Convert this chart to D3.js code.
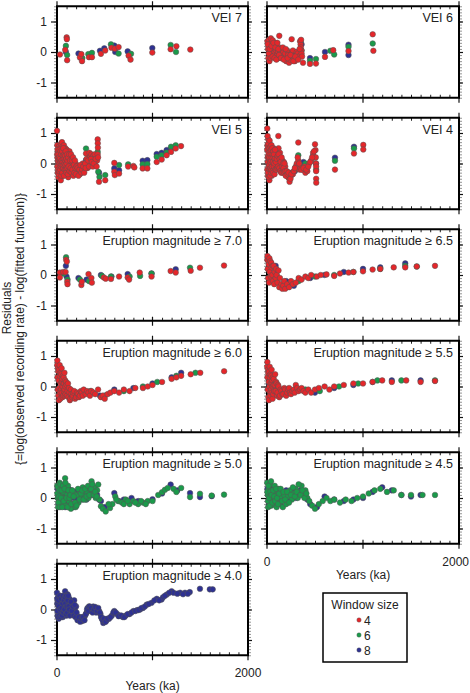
<!DOCTYPE html>
<html><head><meta charset="utf-8">
<script src="https://cdn.jsdelivr.net/npm/d3@7"></script>
<style>body{margin:0;background:#fff}svg{display:block;font-family:"Liberation Sans",Arial,Helvetica,sans-serif}</style>
</head><body><svg id="c" width="470" height="693"></svg>
<script>
// ---------------- DATA (x = years ka, y = residual) ----------------
const windowSizes = ["4", "6", "8"];
const xTickLabels = ["0", "2000"];
const yTickValues = [-1, 0, 1];

const vei7_w8 = [[93,0.0],[225,-0.05],[450,0.04],[495,0.12],[600,0.21],[610,0.0],[740,0.02],[998,0.13]];
const vei7_w6 = [[93,0.2],[106,-0.1],[265,-0.2],[328,-0.07],[366,-0.03],[565,0.25],[645,-0.05],[775,-0.06],[1190,0.23],[1246,0.0]];
const vei7_w4 = [[31,-0.08],[86,0.07],[101,0.48],[103,0.42],[106,-0.27],[240,-0.18],[262,-0.3],[255,-0.07],[335,-0.17],[366,-0.17],[460,-0.06],[505,0.05],[570,0.14],[605,0.11],[645,0.16],[750,-0.12],[770,-0.25],[998,-0.02],[1190,0.09],[1250,0.19],[1396,0.08]];

const vei6_w8 = [[30,0.1],[60,-0.05],[150,0.05],[250,-0.05],[300,0.0],[360,0.25],[448,-0.2],[604,0.0],[849,0.24],[849,-0.1]];
const vei6_w6 = [[40,0.2],[110,0.15],[200,0.0],[270,-0.1],[350,0.35],[360,0.05],[448,-0.29],[510,-0.23],[660,0.04],[700,-0.08],[849,0.17],[1101,0.28]];
const vei6_w4 = [[5,0.35],[10,0.1],[15,-0.2],[20,0.4],[25,-0.3],[30,0.25],[35,0.0],[40,0.45],[45,-0.1],[50,0.3],[55,0.15],[60,0.38],[65,-0.05],[70,0.2],[75,0.1],[80,0.0],[85,0.3],[90,-0.15],[95,0.05],[100,0.2],[105,-0.1],[110,0.1],[115,0.0],[120,-0.2],[128,0.53],[130,0.15],[135,-0.05],[140,0.05],[150,0.1],[155,-0.15],[160,-0.1],[170,0.0],[180,-0.2],[190,-0.05],[200,-0.3],[210,0.05],[220,-0.1],[230,-0.35],[240,-0.25],[257,0.42],[260,0.0],[265,-0.15],[270,0.05],[280,-0.2],[290,-0.3],[300,-0.1],[310,0.0],[320,-0.05],[330,-0.15],[345,0.35],[350,0.25],[352,0.15],[355,0.4],[358,0.05],[360,-0.05],[365,-0.15],[375,-0.35],[448,-0.39],[510,-0.38],[604,-0.16],[690,0.06],[849,0.03],[1101,0.58],[1108,0.04],
  [8,0.25],[18,-0.05],[28,0.1],[38,-0.2],[48,0.2],[58,-0.15],[68,0.3],[78,-0.2],[88,0.15],[98,-0.25],[108,0.3],[118,0.1],[125,-0.1],[145,-0.2],[165,0.15],[175,-0.25],[195,0.1],[215,-0.2],[245,-0.1],[275,-0.3],[295,-0.15],[325,-0.25],[340,0.1]];

const vei5_w8 = [[20,0.1],[50,0.0],[80,0.45],[120,-0.1],[180,-0.2],[304,0.11],[340,-0.05],[380,0.15],[440,-0.3],[600,-0.16],[650,-0.22],[897,0.09],[946,0.11],[1044,0.31],[1096,0.35],[1148,0.44],[1194,0.49]];
const vei5_w6 = [[30,0.2],[70,-0.2],[150,0.1],[304,0.49],[330,0.2],[426,0.38],[432,-0.27],[445,-0.44],[505,-0.38],[650,-0.05],[745,-0.03],[897,-0.03],[946,-0.02],[1044,0.22],[1096,0.27],[1148,0.36],[1194,0.55],[1243,0.6]];
const vei5_w4 = [[0,1.07],[3,0.6],[5,0.2],[8,-0.3],[10,0.4],[12,0.0],[15,-0.45],[18,0.25],[20,0.55],[22,-0.15],[25,0.1],[28,0.35],[30,-0.35],[32,0.5],[35,-0.05],[38,0.2],[40,-0.55],[42,0.65],[45,0.05],[48,-0.25],[50,0.3],[52,0.7],[55,-0.1],[58,0.15],[60,-0.4],[62,0.45],[65,0.0],[68,0.25],[70,-0.2],[72,0.6],[75,0.1],[78,-0.3],[80,0.35],[82,0.0],[85,-0.15],[88,0.5],[90,0.2],[92,-0.35],[95,0.05],[98,0.3],[100,-0.1],[103,0.45],[106,0.15],[110,-0.25],[112,0.35],[115,0.0],[118,-0.45],[120,0.2],[125,0.1],[128,-0.2],[130,0.4],[135,-0.05],[138,0.25],[140,-0.3],[145,0.05],[150,0.2],[155,-0.15],[160,0.0],[165,-0.35],[170,0.1],[175,-0.2],[180,0.05],[185,-0.1],[190,-0.3],[195,0.0],[200,-0.2],[210,-0.35],[220,-0.25],[230,-0.1],[240,-0.35],[250,-0.25],[260,-0.1],[270,0.0],[280,-0.05],[290,-0.15],[304,0.33],[310,0.15],[315,-0.1],[320,-0.15],[330,0.0],[340,0.35],[345,0.2],[350,0.1],[360,0.3],[370,-0.05],[380,0.25],[390,0.1],[400,-0.05],[410,0.2],[420,0.1],[426,0.79],[427,0.66],[428,0.52],[440,-0.6],[505,-0.55],[600,0.02],[600,-0.27],[605,-0.38],[650,-0.33],[745,-0.1],[800,-0.08],[810,-0.13],[897,-0.16],[946,-0.16],[1044,0.05],[1096,0.13],[1148,0.27],[1194,0.38],[1243,0.49],[1299,0.57],
  [2,0.3],[4,-0.1],[6,0.45],[9,0.1],[11,-0.2],[14,0.3],[16,0.05],[19,-0.35],[21,0.2],[24,-0.25],[26,0.45],[29,0.0],[31,0.15],[34,-0.2],[36,0.4],[39,0.05],[41,-0.1],[44,0.3],[46,-0.4],[49,0.1],[51,-0.05],[54,0.4],[56,-0.3],[59,0.05],[61,0.25],[64,-0.15],[66,0.5],[69,-0.05],[71,0.15],[74,-0.4],[76,0.3],[79,0.0],[81,-0.2],[84,0.25],[86,0.1],[89,-0.05],[91,0.4],[94,-0.2],[96,0.15],[99,-0.3],[102,0.0],[105,0.3],[108,-0.15],[111,0.1],[114,-0.35],[117,0.2],[122,-0.1],[127,0.3],[132,-0.25],[137,0.1],[142,-0.15],[147,0.3],[152,-0.3],[157,0.1],[162,-0.2],[168,0.2],[172,-0.4],[178,-0.05],[183,-0.3],[188,0.1],[193,-0.15],[198,-0.35],[205,-0.1],[215,-0.15],[225,-0.4],[235,-0.2],[245,-0.05],[255,-0.3],[265,-0.2],[275,-0.1],[285,-0.3],[295,0.0],[300,-0.15],[325,0.1],[335,-0.1],[355,0.15],[365,0.05],[375,-0.1],[385,0.0],[395,0.3],[405,0.15],[415,-0.1],[425,0.3],[430,0.2]];

const vei4_w8 = [[20,0.2],[60,-0.1],[100,0.1],[180,0.0],[290,-0.25],[330,0.0],[380,0.05],[480,0.25],[510,0.0],[708,0.19],[906,0.55]];
const vei4_w6 = [[30,0.1],[80,0.2],[150,-0.1],[230,-0.3],[295,-0.2],[326,0.27],[350,-0.1],[400,0.0],[490,0.2],[512,-0.2],[708,0.09],[906,0.49]];
const vei4_w4 = [[3,1.15],[5,0.6],[8,0.2],[10,-0.4],[12,0.8],[15,0.0],[18,0.4],[20,-0.2],[22,0.7],[25,-0.55],[28,0.3],[30,0.1],[32,0.5],[35,-0.3],[38,0.2],[40,0.6],[42,-0.1],[45,0.35],[48,0.0],[50,-0.4],[55,0.25],[58,0.45],[60,-0.15],[65,0.15],[68,0.0],[70,0.5],[75,-0.25],[80,0.3],[85,0.1],[88,-0.1],[90,0.4],[95,0.2],[100,-0.05],[105,0.3],[110,0.1],[118,0.9],[120,0.5],[125,0.2],[130,0.0],[135,0.35],[140,-0.1],[145,0.15],[150,0.0],[155,-0.2],[160,0.1],[165,-0.05],[170,-0.25],[175,0.05],[180,-0.15],[185,-0.3],[190,-0.1],[200,-0.35],[210,-0.4],[220,-0.45],[233,-0.5],[235,-0.6],[250,-0.4],[260,-0.3],[270,-0.35],[300,-0.1],[310,0.0],[326,0.69],[326,0.1],[330,-0.05],[340,-0.2],[350,-0.15],[370,-0.2],[390,-0.1],[400,-0.3],[420,-0.25],[440,0.0],[460,0.1],[480,0.35],[500,0.63],[505,0.44],[508,0.2],[510,0.0],[512,-0.1],[512,-0.25],[512,-0.5],[513,-0.63],[708,-0.2],[906,0.33],[1003,0.61],[1003,0.46],
  [2,0.45],[4,-0.2],[6,0.9],[7,0.05],[9,0.55],[11,-0.3],[13,0.25],[14,0.65],[16,-0.1],[17,0.35],[19,-0.45],[21,0.15],[23,0.5],[24,-0.05],[26,0.2],[27,0.75],[29,-0.2],[31,0.4],[33,-0.4],[34,0.05],[36,0.55],[37,-0.15],[39,0.3],[41,-0.3],[43,0.45],[44,0.1],[46,-0.2],[47,0.6],[49,0.2],[52,-0.1],[54,0.5],[57,-0.25],[59,0.3],[62,0.05],[64,-0.3],[67,0.4],[69,0.2],[72,-0.1],[74,0.3],[77,0.0],[79,-0.35],[82,0.15],[84,0.45],[87,-0.2],[92,0.05],[97,-0.2],[102,0.15],[107,-0.15],[112,0.25],[115,-0.1],[122,0.3],[128,-0.15],[132,0.15],[138,-0.25],[142,0.05],[148,-0.3],[152,0.2],[158,-0.1],[162,-0.3],[168,0.0],[172,-0.15],[178,-0.3],[182,0.0],[188,-0.25],[195,-0.4],[205,-0.25],[215,-0.35],[225,-0.3],[245,-0.5],[255,-0.35],[280,-0.25],[290,-0.15],[320,0.2],[335,0.0],[360,-0.2],[380,-0.15],[410,-0.2],[430,-0.1],[450,0.05],[470,0.2],[490,0.4]];

const m70_w8 = [[93,0.3],[100,-0.05],[225,-0.1],[310,-0.15],[460,0.0],[570,-0.05],[740,0.03],[990,0.05],[1243,0.19]];
const m70_w6 = [[70,0.05],[95,0.58],[110,-0.15],[240,-0.15],[335,-0.2],[470,-0.03],[565,-0.05],[760,-0.05],[870,-0.03],[990,0.05],[1393,0.24]];
const m70_w4 = [[30,0.08],[30,-0.08],[65,0.1],[90,0.1],[96,0.5],[103,0.44],[108,-0.22],[110,-0.3],[255,-0.33],[260,-0.22],[330,0.03],[360,-0.1],[365,-0.25],[490,-0.08],[510,-0.12],[565,-0.13],[650,-0.05],[740,-0.08],[755,-0.15],[866,0.08],[990,-0.05],[1190,0.13],[1243,0.08],[1400,0.14],[1497,0.24],[1749,0.31]];

const m65_w8 = [[30,0.1],[90,0.3],[200,-0.2],[280,-0.35],[450,-0.1],[600,0.0],[800,0.1],[1000,0.2],[1180,0.25],[1440,0.38]];
const m65_w6 = [[40,0.3],[100,0.0],[250,-0.3],[330,-0.2],[500,-0.05],[700,0.0],[900,0.1],[1180,0.2],[1440,0.3],[1560,0.28]];
const m65_w4 = [[3,0.5],[5,0.62],[8,0.2],[12,-0.1],[15,0.45],[18,0.35],[22,-0.25],[25,0.55],[28,0.1],[35,0.45],[40,-0.05],[45,0.4],[48,0.25],[55,0.0],[60,0.3],[62,-0.2],[70,0.3],[75,-0.3],[80,0.1],[90,-0.1],[95,0.2],[100,0.0],[110,-0.25],[120,0.15],[128,-0.4],[135,-0.1],[150,-0.3],[160,-0.45],[170,-0.35],[180,-0.2],[190,-0.45],[210,-0.3],[230,-0.4],[250,-0.2],[270,-0.3],[300,-0.25],[330,-0.1],[360,-0.15],[400,-0.05],[430,-0.1],[460,0.0],[520,-0.05],[560,0.0],[620,0.02],[700,-0.03],[760,0.05],[850,0.08],[900,0.1],[1000,0.12],[1100,0.18],[1180,0.2],[1320,0.25],[1440,0.25],[1560,0.28],[1750,0.3]];

const m60_w8 = [[20,0.2],[60,-0.1],[150,-0.2],[300,-0.2],[450,-0.3],[600,-0.1],[800,-0.05],[1000,0.1],[1200,0.3],[1300,0.45]];
const m60_w6 = [[30,0.3],[90,0.0],[200,-0.3],[350,-0.15],[500,-0.3],[700,-0.15],[900,0.0],[1050,0.15],[1250,0.35],[1450,0.45]];
const m60_w4 = [[2,0.7],[4,0.85],[5,0.3],[8,-0.1],[10,0.6],[12,0.5],[15,-0.3],[18,0.2],[20,-0.45],[22,0.55],[25,-0.05],[28,0.7],[30,0.35],[32,-0.2],[35,-0.4],[38,0.45],[40,0.1],[42,-0.1],[45,0.4],[48,0.6],[50,-0.2],[52,0.15],[55,0.25],[58,-0.35],[60,0.0],[62,0.35],[65,-0.3],[68,0.1],[70,0.3],[72,-0.15],[75,0.1],[78,0.45],[80,-0.1],[82,-0.3],[85,0.2],[88,0.0],[90,-0.25],[95,0.15],[100,0.05],[105,-0.3],[110,-0.15],[115,0.1],[120,-0.35],[125,-0.05],[130,-0.2],[135,-0.45],[140,-0.4],[145,-0.1],[150,-0.25],[158,-0.35],[165,-0.3],[172,-0.2],[180,-0.15],[190,-0.4],[200,-0.35],[210,-0.2],[220,-0.25],[230,-0.35],[240,-0.3],[250,-0.15],[260,-0.2],[270,-0.3],[280,-0.1],[300,-0.25],[315,-0.15],[330,-0.2],[345,-0.3],[360,-0.15],[380,-0.2],[400,-0.25],[430,-0.1],[460,-0.35],[480,-0.3],[500,-0.4],[530,-0.25],[560,-0.2],[600,-0.15],[650,-0.2],[700,-0.1],[760,-0.15],[820,-0.05],[900,-0.05],[950,0.0],[1000,0.05],[1100,0.15],[1200,0.25],[1250,0.3],[1300,0.35],[1400,0.4],[1500,0.45],[1750,0.5]];

const m55_w8 = [[20,0.1],[80,-0.1],[200,-0.15],[350,-0.1],[500,-0.2],[700,-0.05],[900,0.05],[1100,0.15],[1300,0.2],[1600,0.2]];
const m55_w6 = [[30,0.3],[100,0.0],[250,-0.2],[400,-0.1],[550,-0.15],[750,0.0],[950,0.1],[1150,0.2],[1400,0.2],[1750,0.2]];
const m55_w4 = [[2,0.65],[4,0.8],[5,0.3],[8,-0.1],[10,0.55],[12,0.45],[15,-0.35],[18,0.15],[20,-0.45],[22,0.5],[25,0.0],[28,0.65],[30,0.3],[32,-0.2],[35,-0.3],[38,0.4],[40,0.1],[42,-0.1],[45,0.35],[48,0.55],[50,-0.2],[52,0.1],[55,0.2],[58,-0.4],[60,0.0],[62,0.3],[65,-0.25],[68,0.05],[70,0.25],[75,-0.15],[80,0.05],[85,0.4],[90,-0.15],[95,0.15],[100,0.1],[105,-0.3],[110,-0.2],[115,0.05],[120,0.0],[128,-0.35],[135,-0.3],[142,-0.1],[150,-0.15],[160,-0.25],[170,-0.25],[180,-0.05],[190,-0.1],[200,-0.3],[210,-0.2],[220,-0.1],[230,-0.05],[240,-0.2],[250,-0.25],[265,-0.15],[280,-0.1],[290,-0.2],[300,0.05],[315,-0.05],[330,-0.15],[345,-0.1],[360,-0.05],[380,-0.15],[400,-0.2],[430,-0.1],[460,-0.2],[500,-0.1],[540,-0.05],[600,0.0],[650,-0.1],[700,0.0],[800,0.05],[900,0.1],[1000,0.1],[1100,0.15],[1200,0.2],[1300,0.15],[1450,0.2],[1600,0.15],[1750,0.18]];

const m50_w8 = [[5,0.3],[15,-0.2],[25,0.1],[40,0.4],[55,-0.1],[70,0.2],[85,-0.3],[100,0.1],[120,0.3],[140,-0.2],[160,0.0],[190,0.2],[220,-0.1],[250,0.25],[280,0.1],[310,-0.05],[340,0.3],[380,0.2],[420,0.1],[460,-0.1],[500,-0.3],[600,0.16],[650,-0.1],[700,-0.05],[780,0.0],[850,-0.1],[1000,-0.04],[1100,0.15],[1190,0.44],[1260,0.25],[1393,0.16],[1497,0.03],[1620,0.06],
  [10,0.0],[30,0.35],[48,-0.25],[62,0.3],[78,0.05],[92,0.4],[110,-0.2],[130,0.05],[150,0.25],[175,-0.3],[205,0.0],[235,0.15],[265,-0.05],[295,0.3],[325,0.15],[360,0.1],[400,0.3],[440,-0.05]];
const m50_w6 = [[2,0.4],[8,0.0],[12,-0.3],[18,0.3],[22,-0.1],[28,0.5],[32,0.2],[38,-0.2],[45,0.1],[50,0.35],[58,-0.15],[65,0.2],[75,0.0],[85,0.65],[90,0.3],[95,-0.25],[105,0.1],[115,0.4],[125,-0.1],[135,0.2],[145,-0.35],[155,0.05],[170,-0.2],[180,0.15],[195,-0.3],[210,0.1],[225,-0.15],[240,0.2],[255,0.0],[270,0.35],[285,0.1],[300,-0.05],[315,0.2],[330,0.0],[345,0.3],[362,0.55],[375,0.15],[390,0.35],[405,0.0],[420,0.25],[432,0.44],[445,-0.05],[460,-0.27],[480,-0.35],[510,-0.44],[555,-0.33],[580,-0.2],[610,0.05],[640,-0.1],[680,-0.15],[720,-0.05],[760,-0.2],[800,-0.1],[850,-0.2],[900,-0.15],[950,-0.1],[1000,-0.1],[1060,0.1],[1100,0.19],[1130,0.27],[1160,0.33],[1220,0.3],[1250,0.2],[1300,0.33],[1393,0.03],[1497,0.14],[1620,0.08],[1749,0.11],
  [4,0.15],[10,0.35],[15,-0.15],[20,0.05],[25,0.25],[30,-0.3],[35,0.45],[40,0.0],[48,0.25],[55,-0.3],[62,0.4],[70,-0.1],[80,0.3],[88,0.5],[100,0.0],[110,-0.3],[120,0.25],[130,0.0],[140,0.1],[150,-0.2],[160,0.25],[175,0.05],[190,-0.15],[205,-0.25],[220,0.3],[235,-0.05],[250,0.15],[265,0.25],[280,-0.05],[295,0.3],[310,0.05],[325,0.4],[340,0.1],[355,0.3],[370,0.45],[385,0.1],[400,0.2],[415,0.05],[540,-0.2],[620,-0.05],[700,-0.2],[740,-0.1],[820,-0.15],[880,-0.1],[930,-0.2]];
const m50_w4 = [];

const m45_w8 = [[5,0.3],[20,-0.2],[40,0.35],[60,-0.1],[80,0.2],[110,0.0],[140,-0.2],[180,0.15],[220,-0.1],[260,0.2],[300,0.0],[350,0.25],[400,0.1],[450,-0.2],[520,-0.3],[600,0.05],[700,-0.05],[800,-0.1],[900,-0.05],[1000,0.0],[1100,0.2],[1200,0.35],[1300,0.25],[1400,0.1],[1500,0.05],[1600,0.1],
  [12,0.1],[30,0.45],[50,0.0],[70,0.3],[95,-0.15],[125,0.2],[160,0.05],[200,0.25],[240,-0.05],[280,0.3],[320,0.1],[380,0.2],[420,-0.05]];
const m45_w6 = [[2,0.5],[8,0.1],[12,-0.3],[18,0.3],[25,-0.1],[30,0.45],[38,0.0],[45,-0.25],[52,0.25],[60,0.05],[70,-0.2],[80,0.4],[90,0.15],[100,-0.3],[110,0.1],[120,0.3],[135,-0.15],[150,0.05],[165,-0.3],[180,0.1],[200,-0.2],[220,0.05],[240,0.25],[260,-0.05],[280,0.15],[300,0.3],[320,0.0],[340,0.2],[360,0.4],[380,0.1],[400,0.25],[420,0.0],[440,-0.1],[470,-0.25],[500,-0.35],[540,-0.2],[580,-0.1],[620,0.0],[660,-0.1],[700,-0.05],[760,-0.15],[820,-0.05],[880,-0.1],[940,0.0],[1000,0.05],[1060,0.15],[1120,0.25],[1180,0.3],[1250,0.2],[1320,0.25],[1400,0.1],[1500,0.1],[1620,0.1],[1750,0.1],
  [4,0.2],[10,-0.1],[15,0.4],[22,0.0],[28,-0.25],[35,0.2],[42,0.55],[48,0.1],[56,-0.15],[65,0.25],[75,0.05],[85,-0.1],[95,0.3],[105,0.0],[115,-0.2],[128,0.15],[142,0.3],[158,-0.1],[172,0.2],[190,-0.05],[210,0.2],[230,-0.15],[250,0.1],[270,0.35],[290,0.05],[310,0.2],[330,0.45],[350,0.1],[370,0.25],[390,0.0],[410,0.15]];
const m45_w4 = [];

const m40_w8 = [[0,0.55],[3,0.2],[6,-0.2],[10,0.4],[14,0.0],[18,-0.3],[22,0.3],[26,0.1],[30,-0.15],[35,0.45],[40,0.2],[45,-0.1],[50,0.3],[55,0.0],[60,-0.25],[65,0.35],[70,0.15],[75,-0.05],[80,0.25],[85,0.6],[90,0.4],[95,0.1],[100,-0.2],[105,0.3],[110,0.5],[115,0.0],[120,0.2],[125,-0.1],[130,0.35],[140,0.1],[150,-0.15],[160,0.2],[170,0.0],[180,0.3],[190,-0.05],[200,0.1],[210,-0.2],[220,-0.3],[235,-0.35],[250,-0.25],[265,-0.38],[280,-0.3],[295,-0.2],[310,-0.1],[320,0.05],[335,0.1],[350,0.0],[365,-0.05],[380,0.1],[395,0.05],[410,-0.1],[425,0.0],[440,-0.05],[455,-0.15],[470,-0.3],[485,-0.44],[500,-0.4],[520,-0.35],[545,-0.3],[575,-0.2],[600,-0.05],[630,-0.15],[660,-0.2],[690,-0.25],[720,-0.2],[760,-0.15],[800,-0.05],[840,-0.02],[870,0.0],[900,0.05],[940,0.16],[990,0.22],[1045,0.35],[1095,0.33],[1110,0.4],[1150,0.49],[1200,0.6],[1220,0.55],[1290,0.55],[1340,0.55],[1390,0.57],[1497,0.68],[1600,0.66],[1630,0.66],
  [2,0.35],[4,-0.05],[8,0.15],[12,-0.25],[16,0.3],[20,0.1],[24,-0.2],[28,0.45],[33,0.0],[38,-0.25],[43,0.35],[48,0.05],[53,-0.2],[58,0.2],[63,0.45],[68,-0.1],[73,0.3],[78,0.0],[83,0.4],[88,0.2],[93,-0.15],[98,0.45],[103,0.1],[108,-0.1],[113,0.3],[118,0.45],[123,0.1],[128,0.0],[135,-0.2],[145,0.25],[155,-0.05],[165,0.1],[175,-0.2],[185,0.15],[195,-0.25],[205,-0.1],[215,-0.35],[228,-0.25],[242,-0.4],[258,-0.3],[272,-0.25],[288,-0.35],[302,-0.15],[315,0.0],[328,-0.05],[342,0.1],[358,0.05],[372,-0.1],[388,0.0],[402,0.08],[418,-0.05],[432,0.05],[448,-0.1],[462,-0.25],[478,-0.35],[492,-0.3],[510,-0.4],[530,-0.3],[560,-0.25],[590,-0.1],[615,-0.1],[645,-0.22],[675,-0.2],[705,-0.25],[740,-0.15],[780,-0.1],[820,-0.05],[855,-0.02],[885,0.05],[920,0.1],[960,0.18],[1020,0.3],[1070,0.3],[1130,0.45],[1175,0.55],[1260,0.52],[1320,0.5],[1370,0.52]];
const m40_w6 = [];
const m40_w4 = [];

// ---------------- LAYOUT ----------------
const colors = {"8": "#2e3192", "6": "#1a9a4a", "4": "#e5262a"};
const panels = [
  {title: "VEI 7", col: 0, row: 0, s: {"8": vei7_w8, "6": vei7_w6, "4": vei7_w4}},
  {title: "VEI 6", col: 1, row: 0, s: {"8": vei6_w8, "6": vei6_w6, "4": vei6_w4}},
  {title: "VEI 5", col: 0, row: 1, s: {"8": vei5_w8, "6": vei5_w6, "4": vei5_w4}},
  {title: "VEI 4", col: 1, row: 1, s: {"8": vei4_w8, "6": vei4_w6, "4": vei4_w4}},
  {title: "Eruption magnitude \u2265 7.0", col: 0, row: 2, s: {"8": m70_w8, "6": m70_w6, "4": m70_w4}},
  {title: "Eruption magnitude \u2265 6.5", col: 1, row: 2, s: {"8": m65_w8, "6": m65_w6, "4": m65_w4}},
  {title: "Eruption magnitude \u2265 6.0", col: 0, row: 3, s: {"8": m60_w8, "6": m60_w6, "4": m60_w4}},
  {title: "Eruption magnitude \u2265 5.5", col: 1, row: 3, s: {"8": m55_w8, "6": m55_w6, "4": m55_w4}},
  {title: "Eruption magnitude \u2265 5.0", col: 0, row: 4, s: {"8": m50_w8, "6": m50_w6, "4": m50_w4}},
  {title: "Eruption magnitude \u2265 4.5", col: 1, row: 4, s: {"8": m45_w8, "6": m45_w6, "4": m45_w4}},
  {title: "Eruption magnitude \u2265 4.0", col: 0, row: 5, s: {"8": m40_w8, "6": m40_w6, "4": m40_w4}}
];

const svg = d3.select("#c");
const colX = [57, 267], colW = [191, 192];
const rowC = [52, 163.5, 275, 386.5, 498, 609.5];
const PH = 91.5;
const lastRow = [5, 4];

panels.forEach(p => {
  const x0 = colX[p.col], x1 = x0 + colW[p.col];
  const yc = rowC[p.row], yT = yc - PH / 2, yB = yc + PH / 2;
  const x = d3.scaleLinear().domain([0, 2000]).range([x0, x1]);
  const y = d3.scaleLinear().domain([-1.5, 1.5]).range([yB, yT]);
  const g = svg.append("g");
  const minorY = d3.range(-15, 16).map(d => d / 10);
  const minorX = d3.range(100, 2000, 100).filter(d => d !== 1000);

  const styleAxis = (sel, col, w) => {
    sel.select(".domain").remove();
    sel.selectAll("line").attr("stroke", col).attr("stroke-width", w);
  };
  g.append("g").attr("transform", `translate(${x0},0)`)
    .call(d3.axisLeft(y).tickValues(minorY).tickSize(3).tickFormat(""))
    .call(s => styleAxis(s, "#777", 0.8));
  g.append("g").attr("transform", `translate(${x1},0)`)
    .call(d3.axisRight(y).tickValues(minorY).tickSize(3).tickFormat(""))
    .call(s => styleAxis(s, "#777", 0.8));
  const la = g.append("g").attr("transform", `translate(${x0},0)`)
    .call(d3.axisLeft(y).tickValues(yTickValues).tickSize(6).tickPadding(4)
      .tickFormat(d => d < 0 ? "-" + Math.abs(d) : String(d)))
    .call(s => styleAxis(s, "#111", 1.2));
  la.selectAll("text").attr("font-size", 12).attr("fill", "#222")
    .attr("font-family", '"Liberation Sans",Arial,sans-serif');
  if (p.col !== 0) la.selectAll("text").remove();
  g.append("g").attr("transform", `translate(${x1},0)`)
    .call(d3.axisRight(y).tickValues(yTickValues).tickSize(4).tickFormat(""))
    .call(s => styleAxis(s, "#111", 1.2));
  g.append("g").attr("transform", `translate(0,${yT})`)
    .call(d3.axisTop(x).tickValues(minorX).tickSize(-3).tickFormat(""))
    .call(s => styleAxis(s, "#222", 1));
  g.append("g").attr("transform", `translate(0,${yB})`)
    .call(d3.axisBottom(x).tickValues(minorX).tickSize(-3).tickFormat(""))
    .call(s => styleAxis(s, "#222", 1));
  [0, 1000, 2000].forEach(v => {
    [[yT - 5, yT + 4], [yB - 4, yB + 5]].forEach(([a, b]) => {
      g.append("line").attr("x1", x(v)).attr("x2", x(v)).attr("y1", a).attr("y2", b)
        .attr("stroke", "#111").attr("stroke-width", 1.2);
    });
  });
  g.append("rect").attr("x", x0).attr("y", yT).attr("width", x1 - x0).attr("height", yB - yT)
    .attr("fill", "none").attr("stroke", "#000").attr("stroke-width", 2);

  ["8", "6", "4"].forEach(k => {
    g.append("g").selectAll("circle").data(p.s[k]).join("circle")
      .attr("cx", d => x(d[0])).attr("cy", d => y(d[1])).attr("r", 2.8)
      .attr("fill", colors[k]).attr("stroke", "#555").attr("stroke-width", 0.5);
  });

  g.append("text").attr("x", x1 - 6).attr("y", yT + 16).attr("text-anchor", "end")
    .attr("font-size", 12.5).attr("fill", "#222").text(p.title);

  if (p.row === lastRow[p.col]) {
    g.append("text").attr("x", x(0)).attr("y", yB + 22).attr("text-anchor", "middle")
      .attr("font-size", 12).attr("fill", "#222").text(xTickLabels[0]);
    const right = p.col === 1;
    g.append("text").attr("x", right ? 469 : x(2000)).attr("y", yB + 22)
      .attr("text-anchor", right ? "end" : "middle")
      .attr("font-size", 12).attr("fill", "#222").text(xTickLabels[1]);
    g.append("text").attr("x", (x0 + x1) / 2).attr("y", yB + 35).attr("text-anchor", "middle")
      .attr("font-size", 12).attr("fill", "#222").text("Years (ka)");
  }
});

svg.append("text").attr("transform", "translate(11,308) rotate(-90)").attr("text-anchor", "middle")
  .attr("font-size", 12).attr("fill", "#222").text("Residuals");
svg.append("text").attr("transform", "translate(24,329) rotate(-90)").attr("text-anchor", "middle")
  .attr("font-size", 12).attr("fill", "#222").text("{=log(observed recording rate) - log(fitted function)}");

const lg = svg.append("g");
lg.append("rect").attr("x", 323).attr("y", 593).attr("width", 84).attr("height", 69)
  .attr("fill", "#fff").attr("stroke", "#000").attr("stroke-width", 1.5);
lg.append("text").attr("x", 365).attr("y", 609).attr("text-anchor", "middle")
  .attr("font-size", 12).attr("fill", "#222").text("Window size");
windowSizes.forEach((w, i) => {
  lg.append("circle").attr("cx", 359).attr("cy", 620 + i * 15).attr("r", 2.2)
    .attr("fill", colors[w]).attr("stroke", "#555").attr("stroke-width", 0.4);
  lg.append("text").attr("x", 364).attr("y", 624.5 + i * 15).attr("font-size", 12)
    .attr("fill", "#222").text(w);
});
</script></body></html>
